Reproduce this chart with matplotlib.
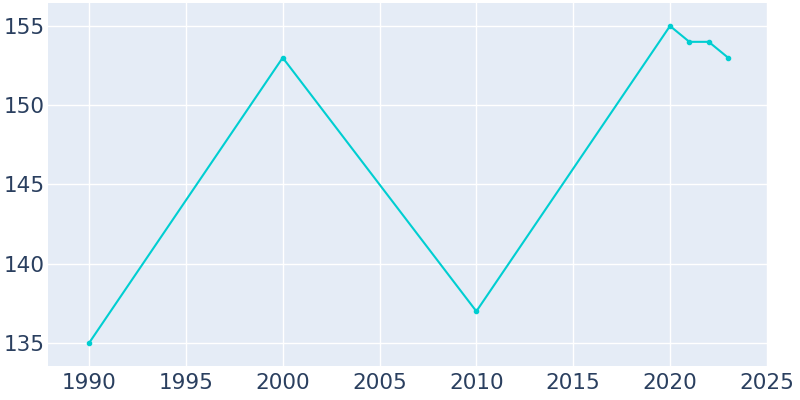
import matplotlib
matplotlib.use("Agg")
import matplotlib.pyplot as plt

years = [1990, 2000, 2010, 2020, 2021, 2022, 2023]
population = [135, 153, 137, 155, 154, 154, 153]
xticks = [1990, 1995, 2000, 2005, 2010, 2015, 2020, 2025]
yticks = [135, 140, 145, 150, 155]

fig = plt.figure(figsize=(8, 4), dpi=100)
ax = fig.add_axes([48/800, 1 - 366/400, (768-48)/800, (366-3)/400])
ax.set_facecolor("#E5ECF6")
ax.plot(years, population, color="#00CED1", linewidth=1.5, marker="o", markersize=3, zorder=3)
ax.set_xlim(1987.88, 2025.06)
ax.set_ylim(133.55, 156.45)
ax.set_xticks(xticks)
ax.set_yticks(yticks)
ax.grid(True, color="white", linewidth=1)
ax.set_axisbelow(True)
for s in ax.spines.values():
    s.set_visible(False)
ax.tick_params(axis="x", length=0, labelsize=15.5, colors="#2a3f5f", pad=5)
ax.tick_params(axis="y", length=0, labelsize=15.5, colors="#2a3f5f", pad=2.2)
fig.savefig("out.png", dpi=100)
